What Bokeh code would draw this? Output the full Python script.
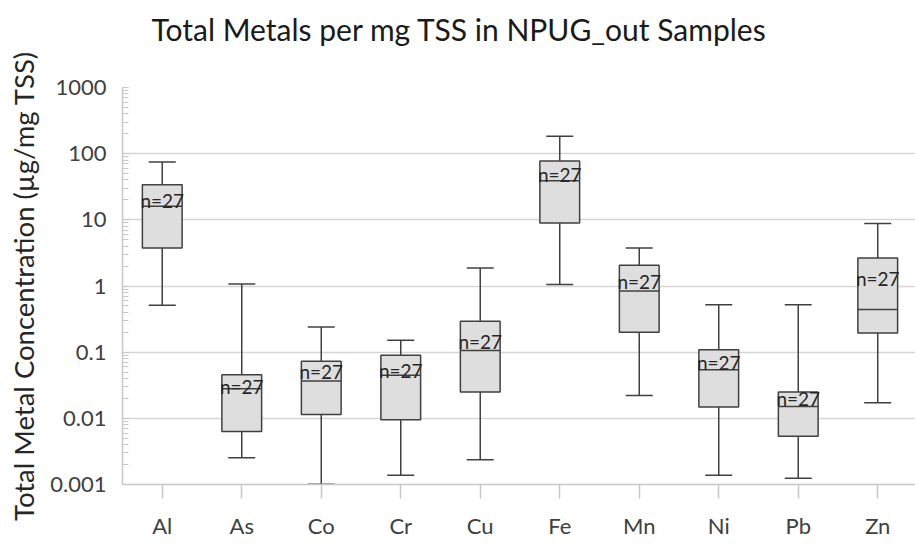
import numpy as np
from bokeh.plotting import figure
from bokeh.models import (ColumnDataSource, Range1d, FixedTicker, Whisker, TeeHead,
                          LogTicker)
from bokeh.core.properties import value
from bokeh.embed import file_html
from bokeh.resources import INLINE

# ---- data ----
metals = ["Al", "As", "Co", "Cr", "Cu", "Fe", "Mn", "Ni", "Pb", "Zn"]
whisker_low = [0.51, 0.00254, 0.00101, 0.00138, 0.00237, 1.05, 0.0222, 0.00138, 0.00124, 0.0172]
q1 = [3.76, 0.0063, 0.01145, 0.00953, 0.0249, 8.98, 0.20, 0.0148, 0.00538, 0.195]
median = [16.0, 0.028, 0.0366, 0.0446, 0.106, 38.8, 0.84, 0.0543, 0.0151, 0.44]
q3 = [34.0, 0.0457, 0.0726, 0.0895, 0.292, 77.8, 2.06, 0.109, 0.0249, 2.65]
whisker_high = [75.0, 1.07, 0.24, 0.151, 1.87, 184.0, 3.76, 0.52, 0.52, 8.8]
label_pos = [19.8, 0.030, 0.0518, 0.0526, 0.147, 48.4, 1.15, 0.071, 0.0198, 1.29]
counts = [27, 27, 27, 27, 27, 27, 27, 27, 27, 27]
y_tick_labels = ["0.001", "0.01", "0.1", "1", "10", "100", "1000"]

title = "Total Metals per mg TSS in NPUG_out Samples"
y_title = "Total Metal Concentration (\u00b5g/mg TSS)"

FONT = "Lato"
BOX_W = 0.5

xs = np.arange(len(metals))
src = ColumnDataSource(dict(
    x=xs, lo=whisker_low, q1=q1, med=median, q3=q3, hi=whisker_high,
    lab=label_pos, n=[f"n={c}" for c in counts],
    mx0=xs - BOX_W / 2, mx1=xs + BOX_W / 2,
))

p = figure(width=915, height=544, y_axis_type="log",
           x_range=Range1d(-0.5, 9.475), y_range=Range1d(0.001, 1000),
           output_backend="svg", toolbar_location=None,
           min_border_left=122, min_border_right=0, min_border_top=87, min_border_bottom=60)

# title: a trailing empty line lifts the text well above the plot frame
p.title.text = title + "\n"
p.title.text_font = FONT
p.title.text_font_size = "30px"
p.title.text_font_style = "normal"
p.title.text_color = "#1a1a1a"
p.title.align = "left"
p.title.offset = 29
p.title.standoff = 10

p.outline_line_color = None
p.background_fill_color = "white"
p.border_fill_color = "white"

# grid
p.xgrid.grid_line_color = None
p.ygrid.grid_line_color = "#d6d6d6"
p.ygrid.grid_line_width = 1.5

# y axis
yticks = [float(s) for s in y_tick_labels]
p.yaxis.ticker = LogTicker(num_minor_ticks=10)
p.yaxis.major_label_overrides = {t: s for t, s in zip(yticks, y_tick_labels)}
p.yaxis.axis_line_color = "#c8c8c8"
p.yaxis.axis_line_width = 1.5
p.yaxis.major_tick_in = 0
p.yaxis.major_tick_out = 0
p.yaxis.minor_tick_in = 6
p.yaxis.minor_tick_out = 0
p.yaxis.minor_tick_line_color = "#c8c8c8"
p.yaxis.major_label_text_font = FONT
p.yaxis.major_label_text_font_size = "22px"
p.yaxis.major_label_text_color = "#404040"
p.yaxis.major_label_standoff = 16
p.yaxis.axis_label = y_title
p.yaxis.axis_label_text_font = FONT
p.yaxis.axis_label_text_font_size = "27.5px"
p.yaxis.axis_label_text_font_style = "normal"
p.yaxis.axis_label_text_color = "#262626"
p.yaxis.axis_label_standoff = 7

# x axis
p.xaxis.ticker = FixedTicker(ticks=list(xs))
p.xaxis.major_label_overrides = {int(i): m for i, m in zip(xs, metals)}
p.xaxis.axis_line_color = "#c8c8c8"
p.xaxis.axis_line_width = 1.5
p.xaxis.major_tick_in = 0
p.xaxis.major_tick_out = 14
p.xaxis.major_tick_line_color = "#c8c8c8"
p.xaxis.major_tick_line_width = 1.5
p.xaxis.minor_tick_line_color = None
p.xaxis.major_label_text_font = FONT
p.xaxis.major_label_text_font_size = "22px"
p.xaxis.major_label_text_color = "#404040"
p.xaxis.major_label_standoff = 13

LINE = "#404040"
# whiskers
up = Whisker(source=src, base="x", lower="q3", upper="hi", line_color=LINE, line_width=1.5,
             upper_head=TeeHead(size=27, line_color=LINE, line_width=1.5), lower_head=None)
dn = Whisker(source=src, base="x", lower="lo", upper="q1", line_color=LINE, line_width=1.5,
             lower_head=TeeHead(size=27, line_color=LINE, line_width=1.5), upper_head=None)
p.add_layout(up)
p.add_layout(dn)

# boxes
p.vbar(x="x", width=BOX_W, bottom="q1", top="q3", source=src,
       fill_color="#dedede", line_color=LINE, line_width=1.5)
p.segment(x0="mx0", x1="mx1", y0="med", y1="med", source=src, line_color=LINE, line_width=1.5)

# n labels
p.text(x="x", y="lab", text="n", source=src, text_align="center", text_baseline="middle",
       text_font=value(FONT), text_font_size="19px", text_color="#262626")

open("out.html", "w").write(file_html(p, INLINE))
